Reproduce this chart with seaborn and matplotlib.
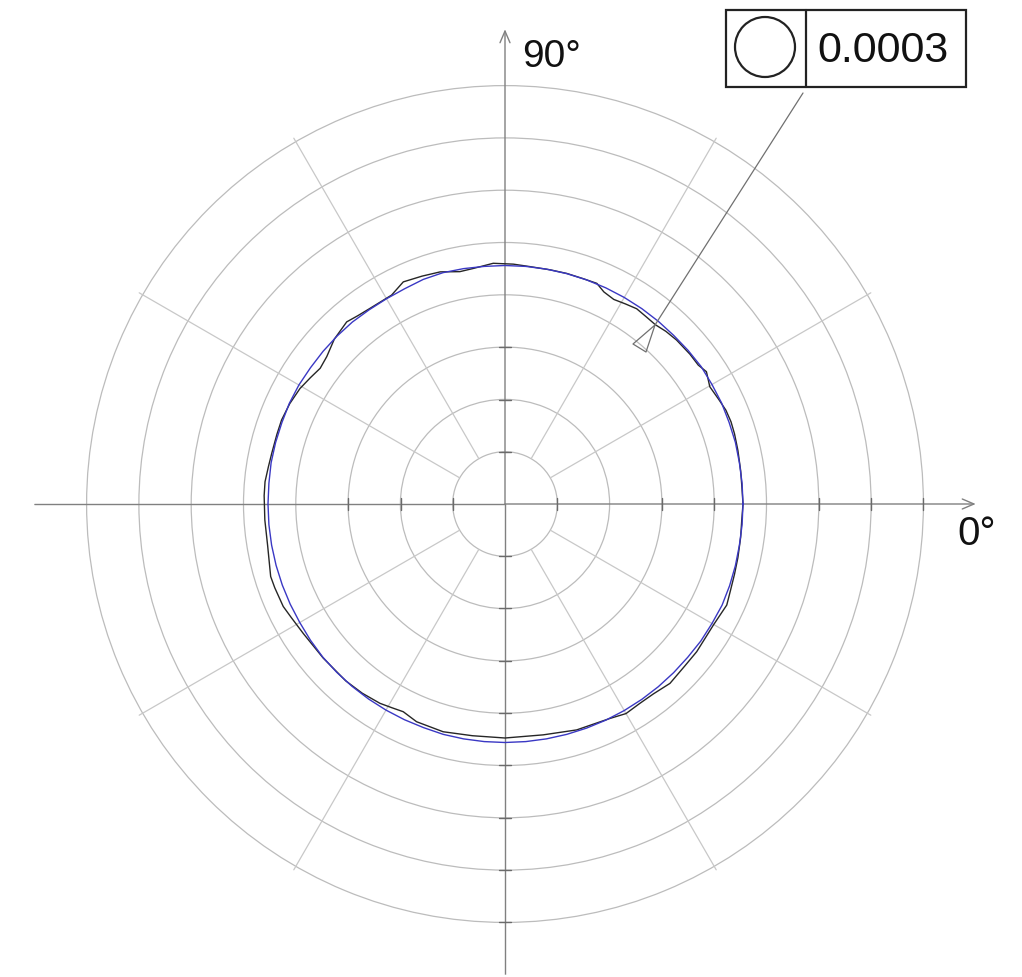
import numpy as np
import pandas as pd
import matplotlib
matplotlib.use("Agg")
import matplotlib.pyplot as plt
from matplotlib.patches import Rectangle, Circle
import seaborn as sns

sns.set_theme(style="white")
plt.rcParams['font.family'] = ['Liberation Sans', 'DejaVu Sans']

# ---- data (radial units of the chart) ----
RINGS = [52.3, 104.6, 156.9, 209.2, 261.5, 313.8, 366.1, 418.4]
R_MAX = 470.7
SPOKE_ANGLES = [30, 60, 120, 150, 210, 240, 300, 330]
AXIS_ANGLES = [0, 90, 180, 270]

PROFILE_ANGLE = [0, 4, 8, 13, 17, 20, 23, 26, 29.8, 33.3, 35.7, 39, 43.7, 47, 50, 53, 56, 59, 62, 65,
                 67.4, 71, 75, 79, 84, 88, 92.8, 97.6, 101, 105.6, 110, 114.6, 118.5, 124.6, 128, 131,
                 136, 140.4, 143.7, 147, 150.6, 155, 159.4, 163, 167.7, 171, 174.7, 178, 183.8, 190,
                 197.2, 200, 204.8, 208, 212.7, 220.3, 228, 233, 237.9, 241, 243.9, 247.9, 254.8, 262,
                 270, 279.4, 287.6, 296, 300, 304, 308, 312.6, 318, 322.4, 326, 329.9, 335.5, 339, 343,
                 347, 352, 356, 360]
PROFILE_R = [238, 237.5, 238, 239, 240, 240.5, 240, 238, 236, 241, 238, 238, 237.3, 236, 234, 234.5, 235.5, 233.5, 231.7, 234,
             239, 238.5, 238.7, 238.5, 238.7, 240, 241, 237.7, 236.7, 241, 242.5, 244.3, 237.7, 237.7, 239, 241.3,
             237.3, 231.3, 229.3, 232, 235.3, 237.5, 238.7, 238.5, 238.7, 239.5, 241, 241, 240.7, 241,
             245.3, 245, 244.3, 242, 239.7, 238.3, 238, 237, 235.3, 233, 231.3, 235, 236, 234,
             234, 234, 237, 238.7, 242, 240.7, 241, 243.7, 242, 242, 241, 241, 243.7, 241.5, 240,
             239, 238, 237.3, 238]

FIT_ANGLE = list(range(0, 365, 5))
FIT_R = [238, 238, 238, 238.5, 238.5, 239, 239, 239.5, 239, 238.5, 238.5, 238.5, 238.5, 238.5, 238.5, 238.5, 238.5, 238.5,
         238.5, 238.5, 239, 239.5, 239, 237.5, 237, 237, 237.5, 237.5, 237.5, 237.5, 238, 238, 237.5, 237.5, 237.5, 237,
         237, 237, 237, 237, 237, 237, 237, 237.5, 238, 238, 238, 238, 238, 238, 238, 238.5, 238.5, 238.5,
         238.5, 238.5, 238.5, 238.5, 238.5, 238.5, 238.5, 238.5, 238.5, 238.5, 238.5, 239, 239, 239.5, 239, 238.5, 238, 238,
         238]

# rings that carry a dark tick on each half axis (ring index from the centre)
TICKED_RINGS = {0: [1, 3, 4, 6, 7, 8], 90: [1, 2, 3], 180: [1, 2, 3], 270: [1, 2, 3, 4, 5, 6, 7, 8]}

BOX_LABEL = "0.0003"
LABEL_0 = "0°"
LABEL_90 = "90°"

# ---- annotation geometry in pixels ----
LEADER_X = [803, 655, 633, 646, 655]
LEADER_Y = [93, 325, 344, 352, 325]

W, H = 1022, 977
CX, CY = 505, 504

fig = plt.figure(figsize=(W / 100, H / 100), dpi=100, facecolor="white")
ax = fig.add_axes([(CX - R_MAX) / W, (H - CY - R_MAX) / H, 2 * R_MAX / W, 2 * R_MAX / H],
                  projection="polar", facecolor="none")

RING_C = "#bcbcbc"
AXIS_C = "#808080"

# grid rings via the polar radial grid
ax.set_rgrids(RINGS, labels=[""] * len(RINGS))
ax.set_thetagrids([], labels=[])
ax.yaxis.grid(True, color=RING_C, lw=0.9)
ax.xaxis.grid(False)
ax.spines["polar"].set_visible(False)

for a in SPOKE_ANGLES:
    t = np.deg2rad(a)
    ax.plot([t, t], [RINGS[0], RINGS[-1] + 4], color="#c8c8c8", lw=0.9, zorder=1)

for a in AXIS_ANGLES:
    t = np.deg2rad(a)
    if a in (0, 90):
        ax.annotate("", xy=(t, R_MAX + (4 if a == 90 else 0)), xytext=(t, 0), annotation_clip=False,
                    arrowprops=dict(arrowstyle="->,head_length=0.7,head_width=0.3", color=AXIS_C, lw=1.0,
                                    shrinkA=0, shrinkB=0), zorder=2)
    else:
        ax.plot([t, t], [0, R_MAX], color=AXIS_C, lw=1.0, zorder=2)
    for r in TICKED_RINGS[a]:
        ring = RINGS[r - 1]
        d = 6.0 / ring
        ax.plot([t - d, t + d], [ring, ring], color="#6a6a6a", lw=1.0, zorder=2)

fit = pd.DataFrame({"theta": np.deg2rad(FIT_ANGLE), "r": FIT_R})
profile = pd.DataFrame({"theta": np.deg2rad(PROFILE_ANGLE), "r": PROFILE_R})
sns.lineplot(data=profile, x="theta", y="r", ax=ax, sort=False, estimator=None, color="#262626", lw=1.0, zorder=3)
sns.lineplot(data=fit, x="theta", y="r", ax=ax, sort=False, estimator=None, color="#3a38c4", lw=1.0, zorder=4)
ax.set_xlabel("")
ax.set_ylabel("")
ax.set_rlim(0, R_MAX)

# overlay in pixel coordinates for callout and labels
ov = fig.add_axes([0, 0, 1, 1], facecolor="none")
ov.set_xlim(0, W)
ov.set_ylim(H, 0)
ov.axis("off")

ov.plot(LEADER_X, LEADER_Y, color="#707070", lw=0.9)
ov.add_patch(Rectangle((725.5, 9.5), 240.5, 77.5, fill=False, ec="#222222", lw=1.6))
ov.plot([806, 806], [9.5, 87], color="#222222", lw=1.6)
ov.add_patch(Circle((765, 47), 30, fill=False, ec="#222222", lw=1.6))

ov.text(817, 62, BOX_LABEL, fontsize=31, color="#111111", ha="left", va="baseline")
ov.text(522, 67, LABEL_90, fontsize=28, color="#111111", ha="left", va="baseline")
ov.text(957, 545, LABEL_0, fontsize=29, color="#111111", ha="left", va="baseline")

fig.savefig("out.png", dpi=100, facecolor="white")
